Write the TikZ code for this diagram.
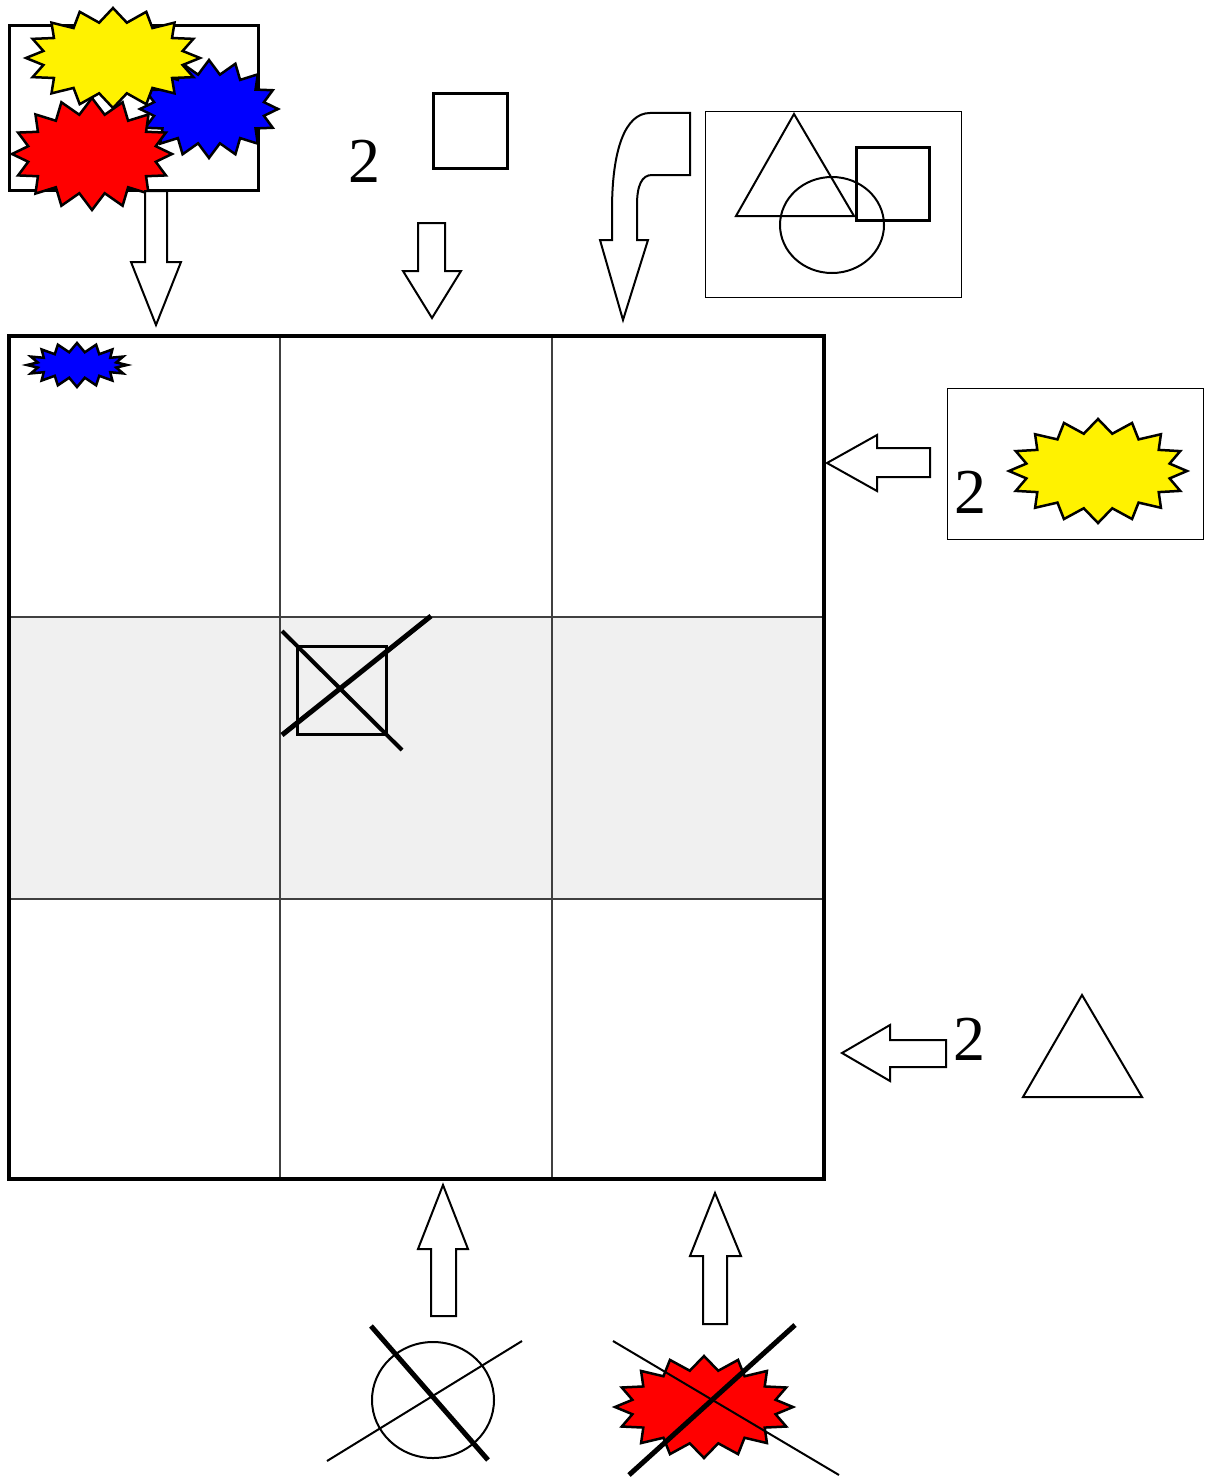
\documentclass[tikz,border=0pt]{standalone}
\usepackage{fontspec}
\setmainfont{Liberation Serif}
\usepackage{tikz}
\definecolor{cellgray}{RGB}{240, 240, 240}
\definecolor{gridline}{RGB}{64, 64, 64}
\usetikzlibrary{positioning}

\tikzset{
  blockarrow/.style={draw=black, fill=white, line width=2pt, line join=miter},
  bigtwo/.style={inner sep=0pt, anchor=base, font=\fontsize{64}{64}\selectfont},
  pics/burst/.style n args={5}{code={
    \draw[line width=2.5pt, fill=#5, line join=miter] (0:#1 and #2)
      \foreach \k in {0,...,15} { -- ({\k*22.5+11.25}:#3 and #4) -- ({\k*22.5+22.5}:#1 and #2) } -- cycle;
  }}
}

\begin{document}
\begin{tikzpicture}[x=1pt, y=-1pt]
\useasboundingbox (0,0) rectangle (1213,1477);

% the board
\fill[cellgray] (9,617) rectangle (824,899);
\draw[gridline, line width=2pt] (280,336) -- (280,1179) (552,336) -- (552,1179);
\draw[gridline, line width=2pt] (9,617) -- (824,617) (9,899) -- (824,899);
\draw[line width=4pt] (9,336) rectangle (824,1179);
\pic at (77,365) {burst={50}{22}{40}{13}{blue}};

% crossed square in the middle cell
\draw[line width=3pt] (297,646) rectangle (386,734);
\draw[line width=5pt] (282,735) -- (431,616);
\draw[line width=4pt] (282,631) -- (402,750);

% top left: three bursts
\draw[line width=3pt] (9,26) rectangle (258,190);
\pic at (209,109) {burst={69}{49}{56}{35}{blue}};
\pic at (92,154) {burst={80}{56}{65}{40}{red}};
\pic at (113,58) {burst={87}{50}{71}{36}{yellow}};
\draw[blockarrow] (145,191) -- (167,191) -- (167,262) -- (181,262) -- (156,325) -- (131,262) -- (145,262) -- cycle;

% top middle: 2 squares
\node (twotop) [bigtwo] at (364.5,182) {2};
\draw[line width=3pt] (433,94) rectangle (507,168);
\draw[blockarrow] (418,223) -- (445,223) -- (445,271) -- (461,271) -- (432,318) -- (403,271) -- (418,271) -- cycle;

% top right: shapes in a box, curved arrow
\draw[blockarrow] (650,113) -- (690,113) -- (690,175) -- (652,175) .. controls (642,175) and (637,185) .. (637,205) -- (637,240) -- (648,240) -- (623,320) -- (600,240) -- (612,240) -- (612,210) .. controls (612,150) and (625,113) .. (650,113) -- cycle;
\draw[line width=1pt] (705,112) rectangle (961,297);
\draw[line width=2pt] (794,114) -- (854,216) -- (736,216) -- cycle;
\draw[line width=2pt] (832,225) ellipse [x radius=52, y radius=48];
\draw[line width=3pt] (856,147) rectangle (929,220);

% right: 2 yellow bursts
\draw[line width=1pt] (947,388) rectangle (1203,539);
\node (tworight) [bigtwo] at (970,513) {2};
\pic at (1098,471) {burst={89}{52}{73}{38}{yellow}};
\draw[blockarrow] (930,448) -- (930,477) -- (877,477) -- (877,491) -- (827,463) -- (877,435) -- (877,448) -- cycle;

% right: 2 triangles
\node (twolow) [bigtwo] at (969,1060) {2};
\draw[line width=2pt] (1082,995) -- (1142,1097) -- (1023,1097) -- cycle;
\draw[blockarrow] (946,1040) -- (946,1067) -- (890,1067) -- (890,1081) -- (842,1053) -- (890,1025) -- (890,1040) -- cycle;

% bottom: no circle
\draw[line width=2pt] (433,1400) ellipse [x radius=61, y radius=58];
\draw[line width=2pt] (327,1461) -- (522,1341);
\draw[line width=5pt] (371,1326) -- (488,1460);
\draw[blockarrow] (431,1316) -- (456,1316) -- (456,1249) -- (468,1249) -- (443,1185) -- (418,1249) -- (431,1249) -- cycle;

% bottom: no red burst
\pic at (704,1407) {burst={89}{51}{73}{37}{red}};
\draw[line width=2pt] (613,1341) -- (839,1475);
\draw[line width=5pt] (629,1475) -- (795,1325);
\draw[blockarrow] (703,1324) -- (727,1324) -- (727,1256) -- (741,1256) -- (715,1193) -- (690,1256) -- (703,1256) -- cycle;
\end{tikzpicture}
\end{document}
